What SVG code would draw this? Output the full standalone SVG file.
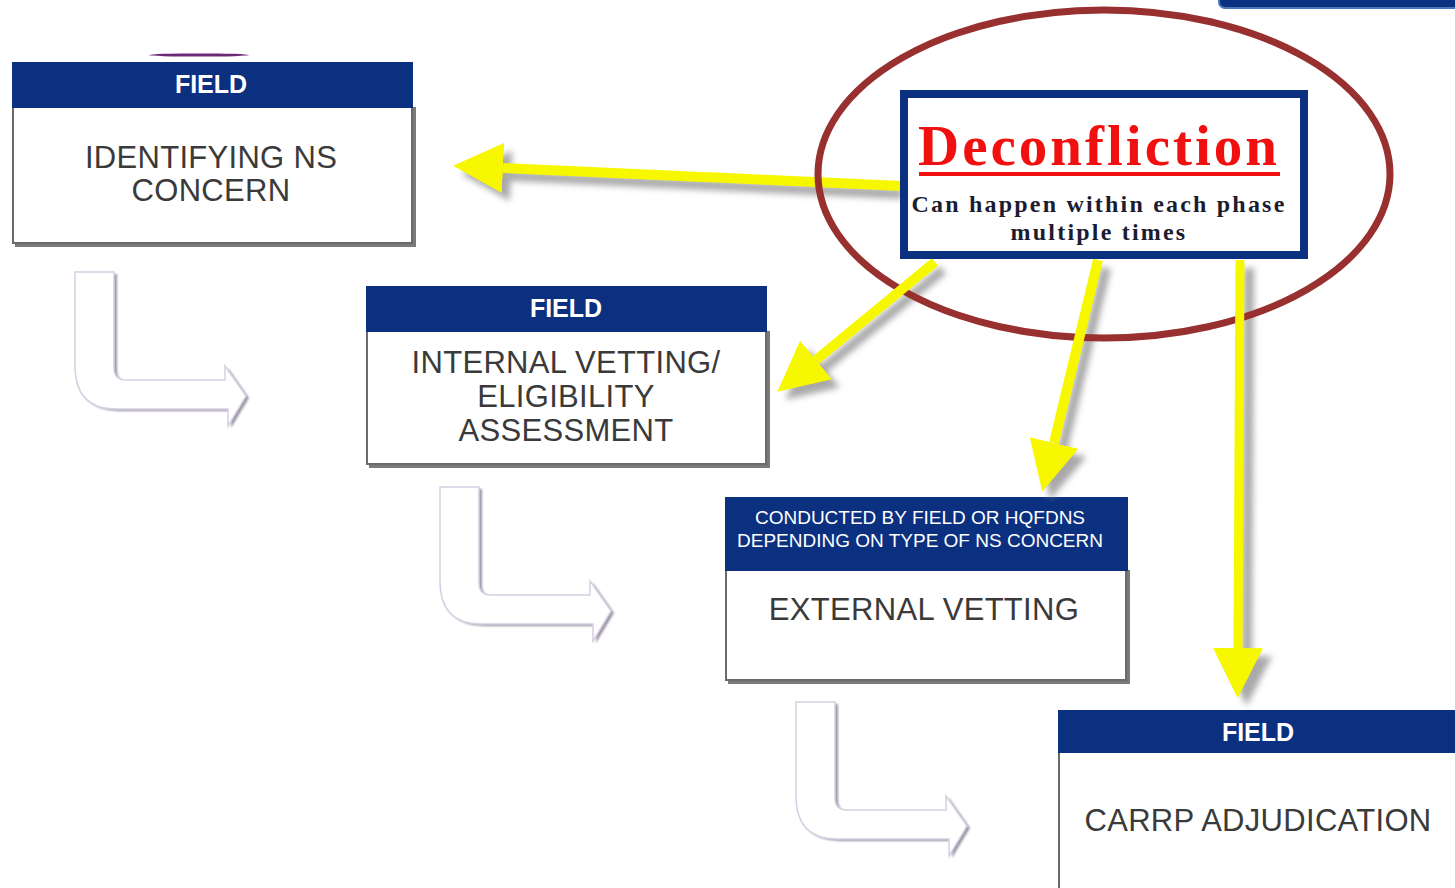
<svg xmlns="http://www.w3.org/2000/svg" width="1455" height="888" viewBox="0 0 1455 888">
<style>
.hdr{fill:#0c3080}
.body{fill:#ffffff;stroke:#6a6a6a;stroke-width:2}
.bshadow{fill:#7a7a7a}
.ht{font-family:"Liberation Sans",Arial,sans-serif;font-weight:bold;font-size:25px;fill:#ffffff;text-anchor:middle}
.hs{font-family:"Liberation Sans",Arial,sans-serif;font-size:19px;fill:#ffffff;text-anchor:middle}
.bt{font-family:"Liberation Sans",Arial,sans-serif;font-size:31px;fill:#3a3a3a;text-anchor:middle;letter-spacing:0.3px}
.yl{fill:none;stroke:#f7f700;stroke-width:10}
.ysh{fill:none;stroke:#8c8c8c;stroke-width:10;opacity:0.75}
.hook{fill:#ffffff;stroke:#d8d0e2;stroke-width:1.5}
.hooksh{fill:#9c96a8}
.sub{font-family:"Liberation Serif","Times New Roman",serif;font-weight:bold;font-size:24px;letter-spacing:2.2px;fill:#1c1c30;text-anchor:middle}
</style>
<defs>
<filter id="blur" x="-20%" y="-20%" width="140%" height="140%"><feGaussianBlur stdDeviation="3"/></filter>
<filter id="blur1" x="-10%" y="-10%" width="120%" height="120%"><feGaussianBlur stdDeviation="1.2"/></filter>
<marker id="ah" viewBox="0 0 50 50" markerWidth="50" markerHeight="50" refX="0" refY="25" orient="auto" markerUnits="userSpaceOnUse"><path d="M0,0 L50,25 L0,50 Z" fill="#f7f700"/></marker>
<marker id="ahs" viewBox="0 0 50 50" markerWidth="50" markerHeight="50" refX="0" refY="25" orient="auto" markerUnits="userSpaceOnUse"><path d="M0,0 L50,25 L0,50 Z" fill="#8c8c8c"/></marker>
<path id="hookshape" d="M75 272 H114 V368 Q114 380 126 380 H225 V366 L246 396 L228 426 V409 H116 Q75 409 75 366 Z"/>
</defs>
<rect width="1455" height="888" fill="#ffffff"/>

<g id="corner-box">
<rect x="1219" y="-20" width="250" height="28" rx="6" fill="#0c3080" stroke="#4a78b8" stroke-width="2"/>
</g>
<ellipse cx="199" cy="55" rx="50" ry="1.6" fill="#6b2a78"/>

<g id="hooks">
<g id="hook1"><use href="#hookshape" class="hooksh" transform="translate(3,2)" filter="url(#blur1)"/><use href="#hookshape" class="hook"/></g>
<g id="hook2" transform="translate(365,215)"><use href="#hookshape" class="hooksh" transform="translate(3,2)" filter="url(#blur1)"/><use href="#hookshape" class="hook"/></g>
<g id="hook3" transform="translate(721,430)"><use href="#hookshape" class="hooksh" transform="translate(3,2)" filter="url(#blur1)"/><use href="#hookshape" class="hook"/></g>
</g>

<g id="node-identifying">
<rect class="bshadow" x="15" y="107" width="401" height="140"/>
<rect class="body" x="13" y="107" width="399" height="136"/>
<rect class="hdr" x="12" y="62" width="401" height="46"/>
<text class="ht" x="211" y="93">FIELD</text>
<text class="bt" x="211" y="168">IDENTIFYING NS</text>
<text class="bt" x="211" y="201">CONCERN</text>
</g>

<g id="node-internal">
<rect class="bshadow" x="369" y="331" width="401" height="137"/>
<rect class="body" x="367" y="331" width="399" height="133"/>
<rect class="hdr" x="366" y="286" width="401" height="46"/>
<text class="ht" x="566" y="317">FIELD</text>
<text class="bt" x="566" y="373">INTERNAL VETTING/</text>
<text class="bt" x="566" y="407">ELIGIBILITY</text>
<text class="bt" x="566" y="441">ASSESSMENT</text>
</g>

<g id="node-external">
<rect class="bshadow" x="728" y="570" width="402" height="114"/>
<rect class="body" x="726" y="570" width="400" height="110"/>
<rect class="hdr" x="725" y="497" width="403" height="74"/>
<text class="hs" x="920" y="524">CONDUCTED BY FIELD OR HQFDNS</text>
<text class="hs" x="920" y="547">DEPENDING ON TYPE OF NS CONCERN</text>
<text class="bt" x="924" y="620">EXTERNAL VETTING</text>
</g>

<g id="node-carrp">
<rect class="bshadow" x="1061" y="752" width="400" height="140"/>
<rect class="body" x="1059" y="752" width="400" height="140"/>
<rect class="hdr" x="1058" y="710" width="400" height="43"/>
<text class="ht" x="1258" y="741">FIELD</text>
<text class="bt" x="1258" y="831">CARRP ADJUDICATION</text>
</g>

<g id="connectors">
<g id="shadows" filter="url(#blur)">
<path class="ysh" d="M902 194 L511 176" marker-end="url(#ahs)"/>
<path class="ysh" d="M943 270 L824 368" marker-end="url(#ahs)"/>
<path class="ysh" d="M1106 268 L1062 451" marker-end="url(#ahs)"/>
<path class="ysh" d="M1249 268 L1247 656" marker-end="url(#ahs)"/>
</g>
<path id="arrow-identifying" class="yl" d="M902 186 L503 168" marker-end="url(#ah)"/>
</g>

<g id="ellipse-highlight">
<ellipse cx="1104" cy="174" rx="286" ry="164" fill="none" stroke="#983030" stroke-width="7"/>
</g>

<g id="connectors-2">
<path id="arrow-internal" class="yl" d="M935 262 L816 360" marker-end="url(#ah)"/>
<path id="arrow-external" class="yl" d="M1098 260 L1054 443" marker-end="url(#ah)"/>
<path id="arrow-carrp" class="yl" d="M1240 260 L1238 648" style="stroke-width:9" marker-end="url(#ah)"/>
</g>

<g id="node-deconfliction">
<rect x="904" y="94" width="400" height="161" fill="#ffffff" stroke="#0c3080" stroke-width="8"/>
<text x="1099" y="165" font-family="'Liberation Serif','Times New Roman',serif" font-weight="bold" font-size="57" letter-spacing="3" fill="#f01010" text-anchor="middle">Deconfliction</text>
<rect x="919" y="172" width="361" height="4" fill="#f01010"/>
<text class="sub" x="1099" y="212">Can happen within each phase</text>
<text class="sub" x="1099" y="240">multiple times</text>
</g>
</svg>
